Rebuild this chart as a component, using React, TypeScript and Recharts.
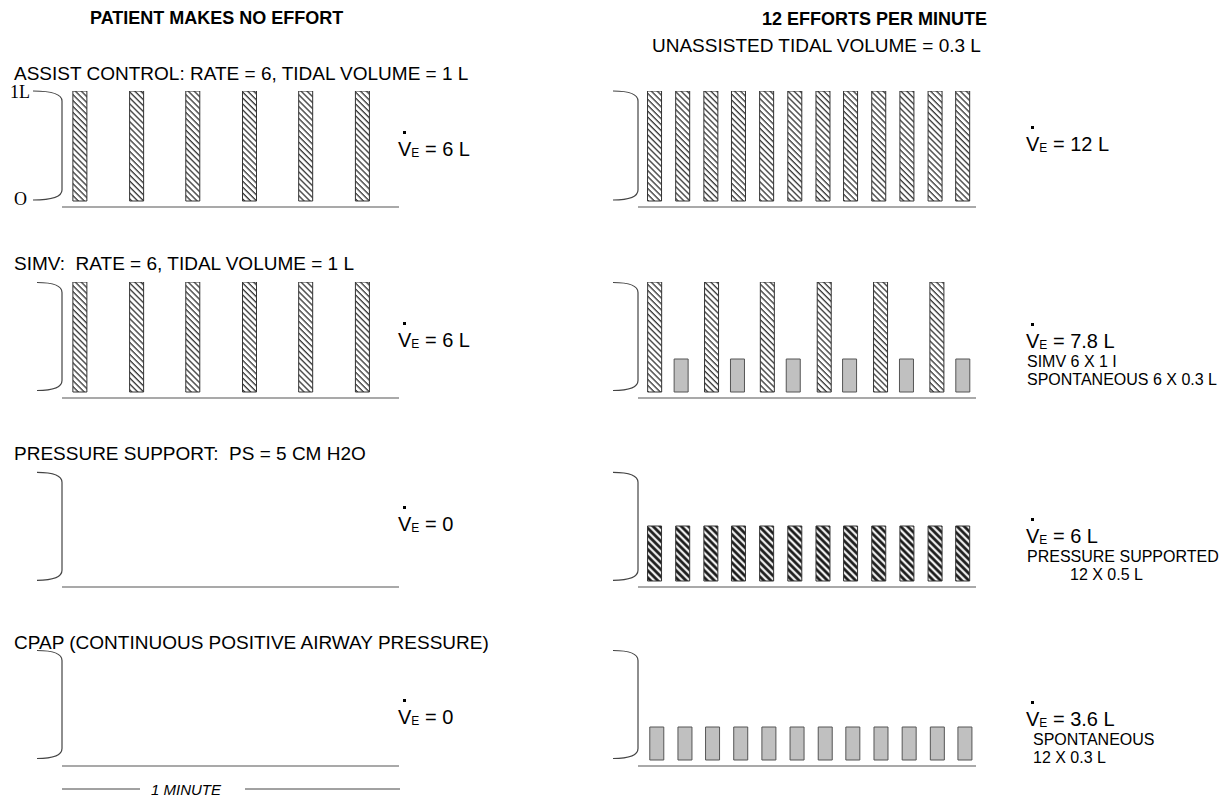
import React from "react";
import { Bar, BarChart, Cell, XAxis, YAxis } from "recharts";

// one minute of breathing, times in seconds, volumes in litres
const minuteDomain = [0, 60];
const volumeDomain = [-0.0545, 1];

const acLeftTimes = [3.2, 13.3, 23.3, 33.4, 43.4, 53.5];
const acLeftVolumes = [1, 1, 1, 1, 1, 1];
const acRightTimes = [2.9, 7.9, 12.9, 17.8, 22.8, 27.8, 32.8, 37.7, 42.7, 47.7, 52.7, 57.6];
const acRightVolumes = [1, 1, 1, 1, 1, 1, 1, 1, 1, 1, 1, 1];

const simvLeftTimes = [3.2, 13.3, 23.3, 33.4, 43.4, 53.5];
const simvLeftVolumes = [1, 1, 1, 1, 1, 1];
const simvRightTimes = [2.9, 7.6, 13.0, 17.6, 22.9, 27.5, 33.0, 37.5, 43.0, 47.6, 53.0, 57.6];
const simvRightVolumes = [1, 0.3, 1, 0.3, 1, 0.3, 1, 0.3, 1, 0.3, 1, 0.3];
const simvRightKinds = ["vent", "spont", "vent", "spont", "vent", "spont", "vent", "spont", "vent", "spont", "vent", "spont"];

const psLeftTimes: number[] = [];
const psLeftVolumes: number[] = [];
const psRightTimes = [2.9, 7.9, 12.9, 17.8, 22.8, 27.8, 32.8, 37.7, 42.7, 47.7, 52.7, 57.6];
const psRightVolumes = [0.5, 0.5, 0.5, 0.5, 0.5, 0.5, 0.5, 0.5, 0.5, 0.5, 0.5, 0.5];

const cpapLeftTimes: number[] = [];
const cpapLeftVolumes: number[] = [];
const cpapRightTimes = [3.3, 8.3, 13.2, 18.2, 23.2, 28.2, 33.2, 38.1, 43.1, 48.1, 53.1, 58.0];
const cpapRightVolumes = [0.3, 0.3, 0.3, 0.3, 0.3, 0.3, 0.3, 0.3, 0.3, 0.3, 0.3, 0.3];

const modeLabels = [
  "ASSIST CONTROL: RATE = 6, TIDAL VOLUME = 1 L",
  "SIMV:  RATE = 6, TIDAL VOLUME = 1 L",
  "PRESSURE SUPPORT:  PS = 5 CM H2O",
  "CPAP (CONTINUOUS POSITIVE AIRWAY PRESSURE)",
];
const leftMinuteVent = ["6 L", "6 L", "0", "0"];
const rightMinuteVent = ["12 L", "7.8 L", "6 L", "3.6 L"];
const rightNotes = [
  [] as string[],
  ["SIMV 6 X 1 I", "SPONTANEOUS 6 X 0.3 L"],
  ["PRESSURE SUPPORTED", "12 X 0.5 L"],
  ["SPONTANEOUS", "12 X 0.3 L"],
];

const FONT = "'Liberation Sans', Arial, sans-serif";
const SERIF = "'Liberation Serif', 'Times New Roman', serif";

const rowBase = [207, 397.5, 587.3, 765.5];
const PLOT_H = 116;
const AXIS_H = 4;
const LEFT_X = 62;
const LEFT_W = 337;
const RIGHT_X = 638;
const RIGHT_W = 338;

type Breath = { t: number; vol: number; kind: string };

function toBreaths(times: number[], vols: number[], kind: string | string[]): Breath[] {
  return times.map((t, i) => ({
    t,
    vol: vols[i],
    kind: Array.isArray(kind) ? kind[i] : kind,
  }));
}

const fills: Record<string, string> = {
  vent: "url(#hatchFine)",
  spont: "#c0c0c0",
  ps: "url(#hatchBold)",
};

function Panel({ data, x, w, base }: { data: Breath[]; x: number; w: number; base: number }) {
  return (
    <div style={{ position: "absolute", left: x, top: base - PLOT_H, width: w, height: PLOT_H + AXIS_H }}>
      <BarChart width={w} height={PLOT_H + AXIS_H} data={data} margin={{ top: 0, right: 0, bottom: 0, left: 0 }}>
        <defs>
          <pattern id="hatchFine" patternUnits="userSpaceOnUse" width="4.2" height="4.2" patternTransform="rotate(-45)">
            <rect width="4.2" height="4.2" fill="#fff" />
            <line x1="1" y1="0" x2="1" y2="4.2" stroke="#333" strokeWidth="1.3" />
          </pattern>
          <pattern id="hatchBold" patternUnits="userSpaceOnUse" width="5" height="5" patternTransform="rotate(-45)">
            <rect width="5" height="5" fill="#eee" />
            <line x1="1.5" y1="0" x2="1.5" y2="5" stroke="#111" strokeWidth="2.6" />
          </pattern>
        </defs>
        <XAxis
          type="number"
          dataKey="t"
          domain={minuteDomain}
          allowDataOverflow
          tick={false}
          tickLine={false}
          height={AXIS_H}
          axisLine={{ stroke: "#555", strokeWidth: 1.2 }}
        />
        <YAxis hide domain={volumeDomain} allowDataOverflow />
        <Bar dataKey="vol" barSize={14} stroke="#333" strokeWidth={1} isAnimationActive={false}>
          {data.map((d, i) => (
            <Cell key={i} fill={fills[d.kind]} stroke={d.kind === "spont" ? "#555" : "#333"} />
          ))}
        </Bar>
      </BarChart>
    </div>
  );
}

function bracket(x0: number, x1: number, top: number, bottom: number) {
  return `M ${x0} ${top} Q ${x1} ${top} ${x1} ${top + 10} L ${x1} ${bottom - 10} Q ${x1} ${bottom} ${x0} ${bottom}`;
}

// V with a dot over it (minute ventilation)
function MinuteVent({ x, y, value }: { x: number; y: number; value: string }) {
  return (
    <g>
      <rect x={x + 5} y={y - 18} width={3} height={3} fill="#000" />
      <text x={x} y={y} fontSize={20} fontFamily={FONT} dominantBaseline="central" style={{ whiteSpace: "pre" }}>
        V<tspan fontSize={12} dy={4}>E</tspan>
        <tspan dy={-4}>{" = " + value}</tspan>
      </text>
    </g>
  );
}

export default function App() {
  const left = [
    toBreaths(acLeftTimes, acLeftVolumes, "vent"),
    toBreaths(simvLeftTimes, simvLeftVolumes, "vent"),
    toBreaths(psLeftTimes, psLeftVolumes, "ps"),
    toBreaths(cpapLeftTimes, cpapLeftVolumes, "spont"),
  ];
  const right = [
    toBreaths(acRightTimes, acRightVolumes, "vent"),
    toBreaths(simvRightTimes, simvRightVolumes, simvRightKinds),
    toBreaths(psRightTimes, psRightVolumes, "ps"),
    toBreaths(cpapRightTimes, cpapRightVolumes, "spont"),
  ];
  const labelY = [73, 263, 453, 642];
  const veY = [149, 340, 524, 717];
  const veYRight = [144, 341, 536, 719];
  const noteX = [[], [1027, 1027], [1027, 1070], [1033, 1033]];

  return (
    <div style={{ position: "absolute", left: 0, top: 0, width: 1225, height: 799, background: "#fff", fontFamily: FONT }}>
      {left.map((d, i) => (
        <Panel key={"l" + i} data={d} x={LEFT_X} w={LEFT_W} base={rowBase[i]} />
      ))}
      {right.map((d, i) => (
        <Panel key={"r" + i} data={d} x={RIGHT_X} w={RIGHT_W} base={rowBase[i]} />
      ))}
      <svg width={1225} height={799} style={{ position: "absolute", left: 0, top: 0, pointerEvents: "none" }}>
        <text x={90} y={18} fontSize={18} fontWeight="bold" fontFamily={FONT} dominantBaseline="central">
          PATIENT MAKES NO EFFORT
        </text>
        <text x={762} y={19} fontSize={18} fontWeight="bold" fontFamily={FONT} dominantBaseline="central">
          12 EFFORTS PER MINUTE
        </text>
        <text x={652} y={45} fontSize={19} fontFamily={FONT} dominantBaseline="central">
          UNASSISTED TIDAL VOLUME = 0.3 L
        </text>
        {modeLabels.map((m, i) => (
          <text key={m} x={14} y={labelY[i]} fontSize={19} fontFamily={FONT} dominantBaseline="central" style={{ whiteSpace: "pre" }}>
            {m}
          </text>
        ))}
        {rowBase.map((b, i) => {
          const top = b - PLOT_H + (i === 0 ? 0 : 1);
          const bottom = b - 7;
          return (
            <g key={"b" + i} fill="none" stroke="#444" strokeWidth={1.2}>
              <path d={bracket(i === 0 ? 33 : 37, 62, top, bottom)} />
              <path d={bracket(613, 638, top, bottom)} />
            </g>
          );
        })}
        <text x={10} y={92} fontSize={18} fontFamily={SERIF} dominantBaseline="central">1L</text>
        <text x={14} y={199} fontSize={18} fontFamily={SERIF} dominantBaseline="central">O</text>
        {leftMinuteVent.map((v, i) => (
          <MinuteVent key={"lv" + i} x={398} y={veY[i]} value={v} />
        ))}
        {rightMinuteVent.map((v, i) => (
          <MinuteVent key={"rv" + i} x={1026} y={veYRight[i]} value={v} />
        ))}
        {rightNotes.map((lines, i) =>
          lines.map((ln, j) => (
            <text key={"n" + i + j} x={noteX[i][j]} y={veYRight[i] + 20 + j * 18} fontSize={16} fontFamily={FONT} dominantBaseline="central">
              {ln}
            </text>
          ))
        )}
        <g stroke="#444" strokeWidth={1}>
          <line x1={62} y1={789} x2={140} y2={789} />
          <line x1={245} y1={789} x2={400} y2={789} />
        </g>
        <text x={151} y={789} fontSize={15} fontStyle="italic" fontFamily={FONT} dominantBaseline="central">
          1 MINUTE
        </text>
      </svg>
    </div>
  );
}
